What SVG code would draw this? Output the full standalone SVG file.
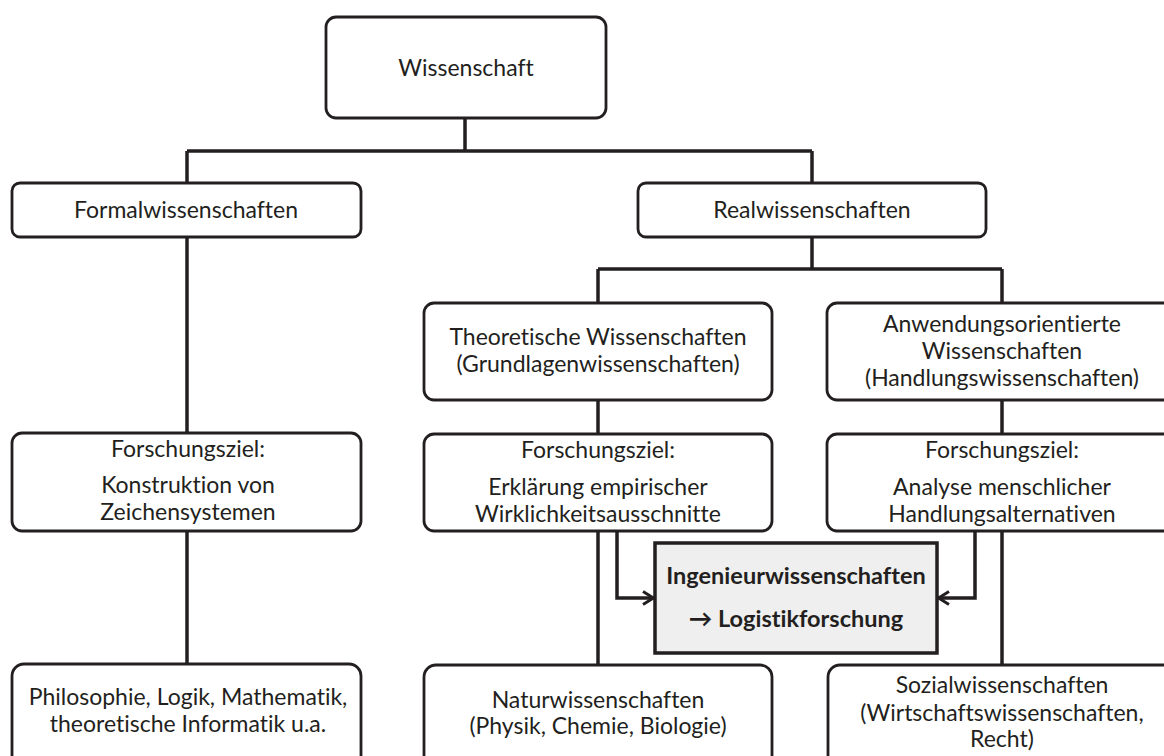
<svg xmlns="http://www.w3.org/2000/svg" width="1164" height="756" viewBox="0 0 1164 756">
<defs>
<style>
.box{fill:#fff;stroke:#231f20;stroke-width:2.8}
.hl{fill:#efefef;stroke:#231f20;stroke-width:3.5}
.con{fill:none;stroke:#231f20;stroke-width:3.5;stroke-linejoin:miter}
text{font-family:Lato,"Open Sans","Liberation Sans",sans-serif;font-size:23px;fill:#231f20;text-anchor:middle;font-variant-ligatures:none}
.b{font-weight:bold;font-size:23.5px}
</style>
<marker id="ah" viewBox="0 0 14 16" refX="13" refY="8" markerWidth="14" markerHeight="16" markerUnits="userSpaceOnUse" orient="auto">
<path d="M2,1.5 L12.5,8 L2,14.5" fill="none" stroke="#231f20" stroke-width="3"/>
</marker>
</defs>
<rect width="1164" height="756" fill="#fff"/>
<g id="connectors">
<path class="con" d="M465,118 V151"/>
<path class="con" d="M187,151 H812"/>
<path class="con" d="M187,151 V183"/>
<path class="con" d="M812,151 V183"/>
<path class="con" d="M187,237 V434"/>
<path class="con" d="M187,531 V664"/>
<path class="con" d="M812,237 V269"/>
<path class="con" d="M598,269 H1002"/>
<path class="con" d="M598,269 V303"/>
<path class="con" d="M1002,269 V303"/>
<path class="con" d="M598,400 V434"/>
<path class="con" d="M1002,400 V434"/>
<path class="con" d="M598,531 V665"/>
<path class="con" d="M1002,531 V665"/>
<path class="con" d="M617,531 V598 H654" marker-end="url(#ah)"/>
<path class="con" d="M975,531 V598 H938" marker-end="url(#ah)"/>
</g>
<g id="wissenschaft">
<rect class="box" x="326" y="17" width="280" height="101" rx="10"/>
<text x="466" y="76">Wissenschaft</text>
</g>
<g id="formal">
<rect class="box" x="12" y="183" width="349" height="54" rx="8"/>
<text x="186" y="218">Formalwissenschaften</text>
</g>
<g id="real">
<rect class="box" x="638" y="183" width="348" height="54" rx="8"/>
<text x="812" y="218">Realwissenschaften</text>
</g>
<g id="theoretisch">
<rect class="box" x="424" y="303" width="348" height="97" rx="10"/>
<text x="598" y="345">Theoretische Wissenschaften</text>
<text x="598" y="372">(Grundlagenwissenschaften)</text>
</g>
<g id="anwendung">
<rect class="box" x="827" y="303" width="350" height="97" rx="10"/>
<text x="1002" y="332">Anwendungsorientierte</text>
<text x="1002" y="359">Wissenschaften</text>
<text x="1002" y="386">(Handlungswissenschaften)</text>
</g>
<g id="ziel-formal">
<rect class="box" x="12" y="433" width="349" height="98" rx="10"/>
<text x="188" y="457">Forschungsziel:</text>
<text x="188" y="493">Konstruktion von</text>
<text x="188" y="520">Zeichensystemen</text>
</g>
<g id="ziel-theoretisch">
<rect class="box" x="424" y="434" width="348" height="97" rx="10"/>
<text x="598" y="458">Forschungsziel:</text>
<text x="598" y="495">Erklärung empirischer</text>
<text x="598" y="522">Wirklichkeitsausschnitte</text>
</g>
<g id="ziel-anwendung">
<rect class="box" x="827" y="434" width="350" height="97" rx="10"/>
<text x="1002" y="458">Forschungsziel:</text>
<text x="1002" y="495">Analyse menschlicher</text>
<text x="1002" y="522">Handlungsalternativen</text>
</g>
<g id="ingenieur">
<rect class="hl" x="655" y="543" width="282" height="110"/>
<text class="b" x="796" y="584">Ingenieurwissenschaften</text>
<text class="b" x="796" y="627">→ Logistikforschung</text>
</g>
<g id="formal-bsp">
<rect class="box" x="12" y="664" width="349" height="110" rx="12"/>
<text x="188" y="705">Philosophie, Logik, Mathematik,</text>
<text x="188" y="732">theoretische Informatik u.a.</text>
</g>
<g id="natur">
<rect class="box" x="424" y="665" width="348" height="110" rx="12"/>
<text x="598" y="708">Naturwissenschaften</text>
<text x="598" y="734">(Physik, Chemie, Biologie)</text>
</g>
<g id="sozial">
<rect class="box" x="828" y="665" width="350" height="110" rx="12"/>
<text x="1002" y="693">Sozialwissenschaften</text>
<text x="1002" y="721">(Wirtschaftswissenschaften,</text>
<text x="1002" y="747">Recht)</text>
</g>
</svg>
